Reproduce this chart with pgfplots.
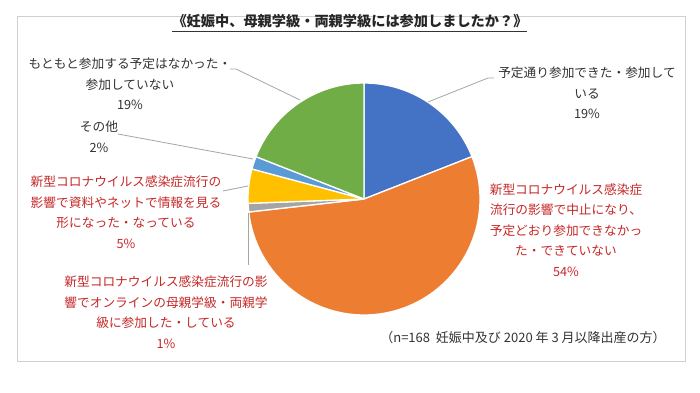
\documentclass[border=0pt]{standalone}
\usepackage{pgfplots}
\pgfplotsset{compat=1.18}
\usepackage{fontspec}
\setmainfont{Noto Sans CJK JP}
\definecolor{pblue}{HTML}{4472C4}
\definecolor{porange}{HTML}{ED7D31}
\definecolor{pgray}{HTML}{A5A5A5}
\definecolor{pyellow}{HTML}{FFC000}
\definecolor{plblue}{HTML}{5B9BD5}
\definecolor{pgreen}{HTML}{70AD47}
\definecolor{labgray}{HTML}{333333}
\definecolor{labred}{HTML}{C62828}
\definecolor{leader}{HTML}{A5A5A5}
\definecolor{frame}{HTML}{D0D0D0}
\newcommand\lab{\fontsize{12.7bp}{20.5bp}\selectfont}
\begin{document}
\begin{tikzpicture}
\begin{axis}[
  width=700bp, height=392bp, scale only axis, hide axis,
  xmin=0, xmax=700, ymin=0, ymax=392, y dir=reverse,
  enlargelimits=false, clip=false]
\fill[white] (axis cs:0,0) rectangle (axis cs:700,392);
\draw[frame, line width=1bp] (axis cs:17,17) rectangle (axis cs:685,361);
% pie: counts out of n=168, clockwise from the top
\pgfplotsextra{
  \gdef\cur{90}
  \foreach \v/\c in {32/pblue,91/porange,2/pgray,8/pyellow,3/plblue,32/pgreen}{
    \pgfmathsetmacro\en{\cur-\v/168*360}
    \fill[\c, draw=white, line width=1.3bp, line join=round]
      (axis cs:364,199) -- ++(\cur:116bp) arc[start angle=\cur, end angle=\en, radius=116bp] -- cycle;
    \xdef\cur{\en}
  }
}
% title
\node[text=black!85, font=\fontsize{14.2bp}{16bp}\selectfont\bfseries] at (axis cs:350,21.5) {《妊娠中、母親学級・両親学級には参加しましたか？》};
\draw[black!80, line width=0.8bp] (axis cs:172,31.5) -- (axis cs:527,31.5);
% leader lines
\draw[leader, line width=0.8bp] (axis cs:230,69) -- (axis cs:236,69) -- (axis cs:300,100);
\draw[leader, line width=0.8bp] (axis cs:118,134) -- (axis cs:253,159);
\draw[leader, line width=0.8bp] (axis cs:223,191) -- (axis cs:248,186);
\draw[leader, line width=0.8bp] (axis cs:248,213) -- (axis cs:248,265);
\draw[leader, line width=0.8bp] (axis cs:428,102) -- (axis cs:488,78) -- (axis cs:494,78);
% labels
\node[text=labgray, align=center, font=\lab] at (axis cs:130,84) {もともと参加する予定はなかった・\\参加していない\\19\%};
\node[text=labgray, align=center, font=\lab] at (axis cs:99,137) {その他\\2\%};
\node[text=labred, align=center, font=\lab] at (axis cs:126,212) {新型コロナウイルス感染症流行の\\影響で資料やネットで情報を見る\\形になった・なっている\\5\%};
\node[text=labred, align=center, font=\lab] at (axis cs:166,312) {新型コロナウイルス感染症流行の影\\響でオンラインの母親学級・両親学\\級に参加した・している\\1\%};
\node[text=labgray, align=center, font=\lab] at (axis cs:587,93) {予定通り参加できた・参加して\\いる\\19\%};
\node[text=labred, align=center, font=\lab] at (axis cs:566,230) {新型コロナウイルス感染症\\流行の影響で中止になり、\\予定どおり参加できなかっ\\た・できていない\\54\%};
\node[text=labgray, font=\fontsize{13bp}{15bp}\selectfont] at (axis cs:523,338) {（n=168\ \ 妊娠中及び\ 2020\ 年\ 3\ 月以降出産の方）};
\end{axis}
\end{tikzpicture}
\end{document}
